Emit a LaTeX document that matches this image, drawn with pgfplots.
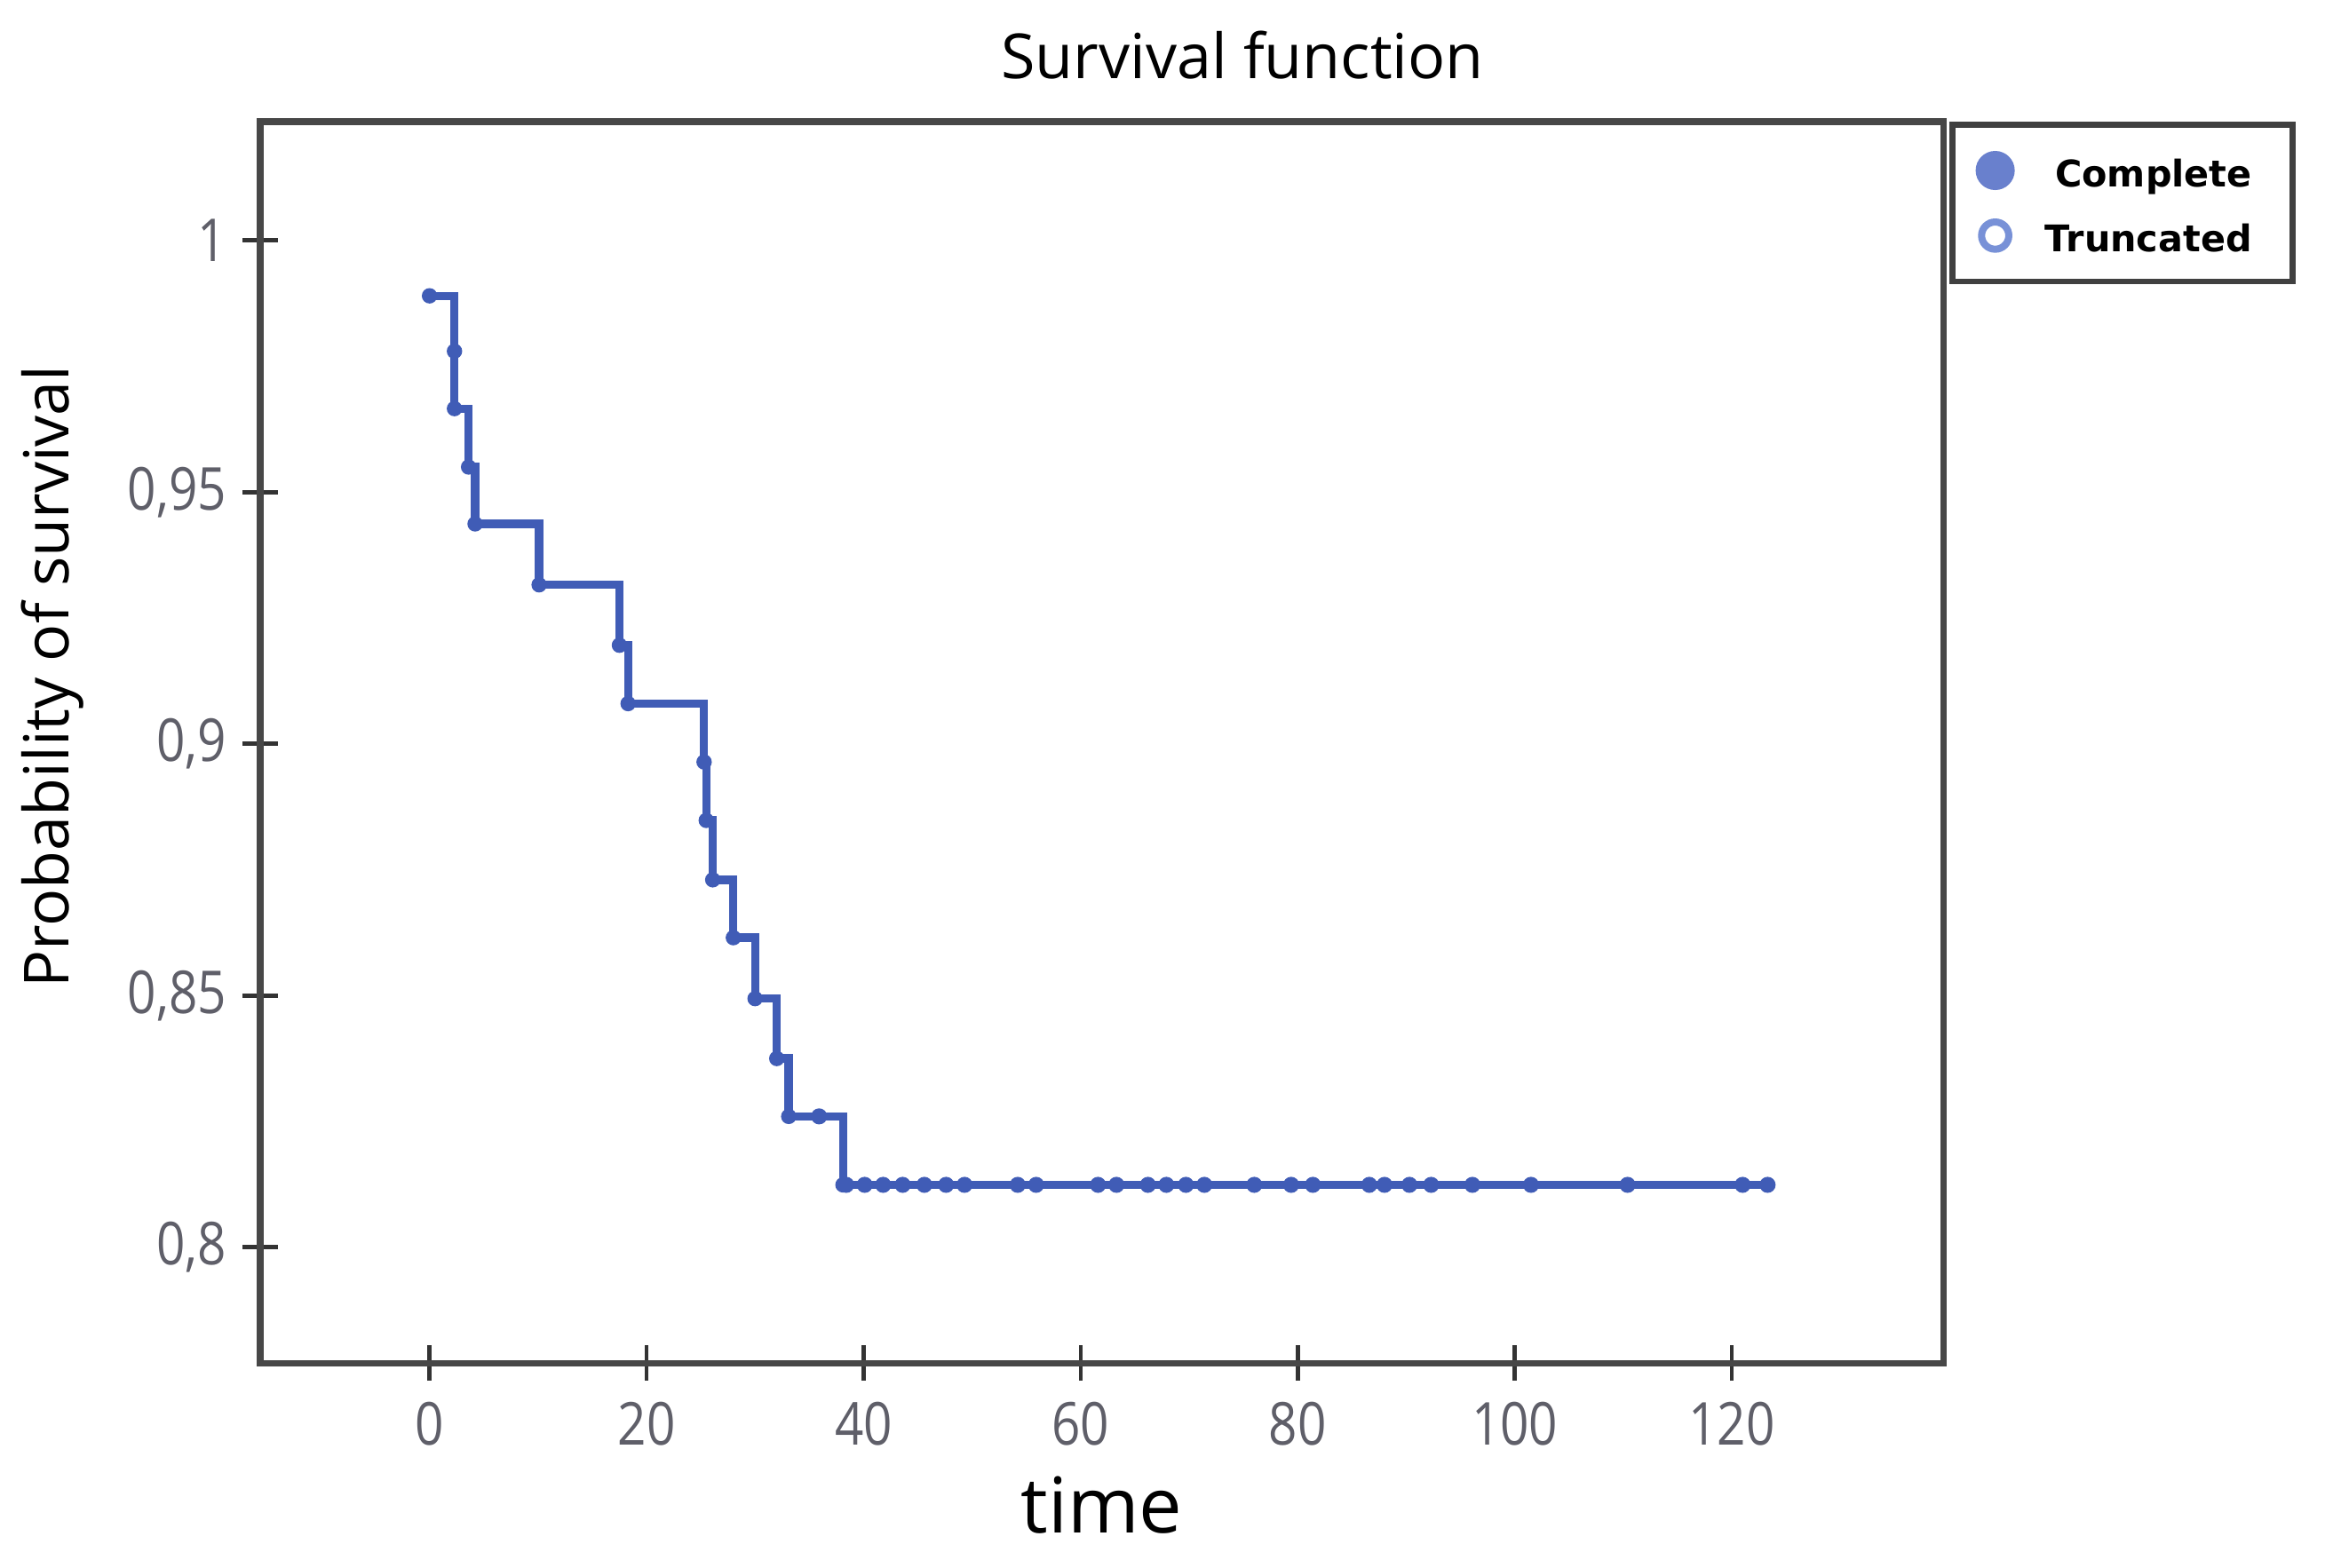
\documentclass[border=0pt]{standalone}
\usepackage{fontspec}
\setmainfont{Open Sans}
\newfontfamily\legfont{DejaVu Sans}
\newfontfamily\tickfont{Open Sans}[FakeStretch=0.85]
\usepackage{pgfplots}
\pgfplotsset{compat=1.18}
\definecolor{kmblue}{RGB}{64,92,182}
\definecolor{tickgray}{RGB}{95,95,105}
\definecolor{legfill}{RGB}{105,128,205}
\definecolor{legring}{RGB}{120,145,215}
\begin{document}
\begin{tikzpicture}
\path[use as bounding box] (0,0) rectangle (394pt,264.75pt);
\node[font=\fontsize{10.5}{12}\selectfont, anchor=center] at (209.85pt,255.45pt) {Survival function};
\begin{axis}[
 at={(43.95pt,34.5pt)}, anchor=south west,
 scale only axis, width=284.25pt, height=209.7pt,
 xmin=-15.6, xmax=139.5, ymin=0.777, ymax=1.0236,
 xtick={0,20,...,120}, ytick={0.8,0.85,0.9,0.95,1},
 xtick pos=bottom, ytick pos=left,
 tick align=center, major tick length=6pt,
 tick style={black!80, line width=0.7pt},
 axis line style={black!72, line width=1.1pt},
 /pgf/number format/use comma,
 /pgf/number format/assume math mode=true,
 ticklabel style={font=\tickfont\fontsize{10}{11}\selectfont, text=tickgray},
 xticklabel style={yshift=0pt},
 yticklabel style={xshift=0.8pt},
 xlabel={time},
 xlabel style={at={(axis description cs:0.5,-0.1145)}, anchor=center, font=\fontsize{13}{15}\selectfont},
 ylabel={Probability of survival},
 ylabel style={at={(axis description cs:-0.1235,0.553)}, anchor=center, font=\fontsize{10.5}{12}\selectfont},
 legend style={at={(axis description cs:1.0037,1)}, anchor=north west, draw=black!75, line width=1pt,
   font=\legfont\bfseries\fontsize{6.2}{7}\selectfont, inner xsep=3.9pt, inner ysep=3pt, row sep=1.5pt,
   nodes={inner xsep=3pt, inner ysep=2pt, text height=5.5pt, text depth=0pt}},
 legend cell align=right,
]
\addplot[const plot, kmblue, line width=1.4pt, forget plot] coordinates {
(0,0.989) (2.3,0.978) (2.3,0.9666) (3.6,0.955) (4.2,0.9437) (10.1,0.9316)
(17.5,0.9196) (18.3,0.908) (25.3,0.8964) (25.5,0.8848) (26.1,0.873)
(28.0,0.8615) (30.0,0.8494) (32.0,0.8375) (33.1,0.826) (38.1,0.8124) (123.6,0.8124)};
\addplot[only marks, mark=*, mark size=1.1pt, kmblue,
  legend image code/.code={\fill[legfill] (0,0) circle (2.8pt); \path (4.95pt,0);}] coordinates {
(0,0.989) (2.3,0.978) (2.3,0.9666) (3.6,0.955) (4.2,0.9437) (10.1,0.9316)
(17.5,0.9196) (18.3,0.908) (25.3,0.8964) (25.5,0.8848) (26.1,0.873)
(28.0,0.8615) (30.0,0.8494) (32.0,0.8375) (33.1,0.826) (38.1,0.8124)};
\addlegendentry{Complete}
\addplot[only marks, mark=o, mark size=0.9pt, kmblue, mark options={line width=0.9pt},
  legend image code/.code={\draw[legring, line width=1.2pt, fill=white] (0,0) circle (2.3pt); \path (-2.8pt,0) (4.95pt,0);}] coordinates {
(35.9,0.826) (38.4,0.8124) (40.1,0.8124) (41.8,0.8124) (43.6,0.8124) (45.6,0.8124)
(47.6,0.8124) (49.3,0.8124) (54.2,0.8124) (55.9,0.8124) (61.6,0.8124) (63.3,0.8124)
(66.2,0.8124) (67.9,0.8124) (69.7,0.8124) (71.4,0.8124) (76.0,0.8124) (79.4,0.8124)
(81.4,0.8124) (86.6,0.8124) (88.0,0.8124) (90.3,0.8124) (92.3,0.8124) (96.1,0.8124)
(101.5,0.8124) (110.4,0.8124) (121.0,0.8124) (123.3,0.8124)};
\addlegendentry{Truncated}
\end{axis}
\end{tikzpicture}
\end{document}
